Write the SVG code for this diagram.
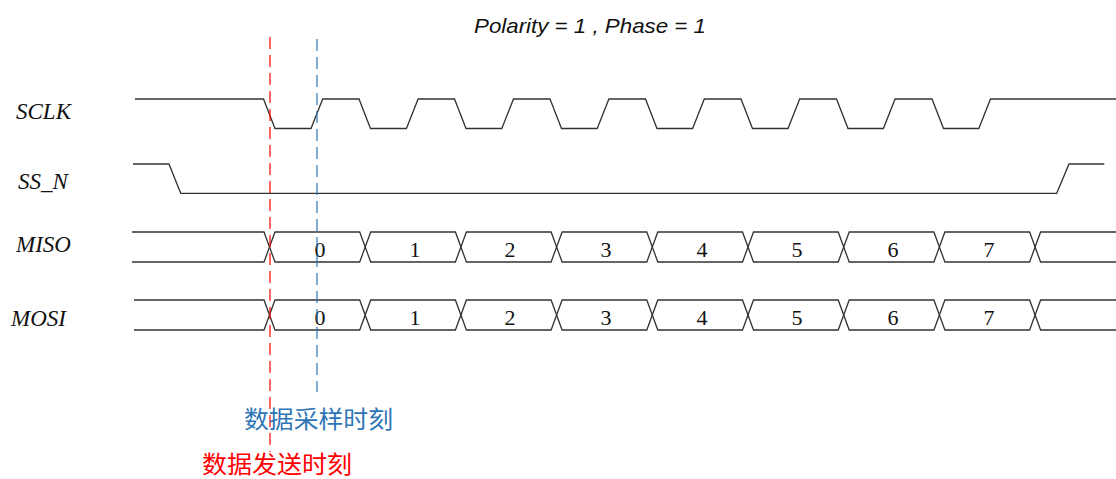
<svg xmlns="http://www.w3.org/2000/svg" width="1116" height="479" viewBox="0 0 1116 479">
<style>
.sig{fill:none;stroke:#333;stroke-width:1.3;stroke-linejoin:miter}
.ttl{font-family:"Liberation Sans",Arial,sans-serif;font-style:italic;font-size:21px;fill:#111}
.lbl{font-family:"Liberation Serif","Times New Roman",serif;font-style:italic;font-size:23px;fill:#111}
.num{font-family:"Liberation Serif","Times New Roman",serif;font-size:22px;fill:#111;text-anchor:middle}
.cjk{font-family:"Noto Sans CJK SC","Liberation Sans",sans-serif;font-size:24px}
</style>
<rect width="1116" height="479" fill="#fff"/>
<text id="title" class="ttl" x="474" y="33" textLength="232" lengthAdjust="spacingAndGlyphs">Polarity = 1 , Phase = 1</text>
<g id="sclk">
<text class="lbl" x="16" y="119">SCLK</text>
<path class="sig" d="M135,99 L263.5,99 L275,128.5 L311,128.5 L322.7,99 L359,99 L370.5,128.5 L406.4,128.5 L418.1,99 L454.5,99 L466,128.5 L501.8,128.5 L513.5,99 L550,99 L561.5,128.5 L597.2,128.5 L608.9,99 L645.5,99 L657,128.5 L692.6,128.5 L704.3,99 L741,99 L752.5,128.5 L788,128.5 L799.7,99 L836.5,99 L848,128.5 L883.4,128.5 L895.1,99 L932,99 L943.5,128.5 L978.8,128.5 L990.5,99 L1116,99"/>
</g>
<g id="ss_n">
<text class="lbl" x="18" y="189">SS_N</text>
<path class="sig" d="M133,164 L169,164 L180.7,193.3 L1056.7,193.3 L1069,164 L1104.3,164"/>
</g>
<g id="miso">
<text class="lbl" x="16" y="252">MISO</text>
<path class="sig" d="M132,232 H264 L275,262 H359.7 L370.7,232 H455.4 L466.4,262 H551.1 L562.1,232 H646.8 L657.8,262 H742.5 L753.5,232 H838.2 L849.2,262 H933.9 L944.9,232 H1029.6 L1040.6,262 H1116"/>
<path class="sig" d="M132,262 H264 L275,232 H359.7 L370.7,262 H455.4 L466.4,232 H551.1 L562.1,262 H646.8 L657.8,232 H742.5 L753.5,262 H838.2 L849.2,232 H933.9 L944.9,262 H1029.6 L1040.6,232 H1116"/>
<text class="num" x="320" y="257">0</text><text class="num" x="415" y="257">1</text><text class="num" x="510" y="257">2</text><text class="num" x="606" y="257">3</text><text class="num" x="702" y="257">4</text><text class="num" x="797" y="257">5</text><text class="num" x="893" y="257">6</text><text class="num" x="989" y="257">7</text>
</g>
<g id="mosi">
<text class="lbl" x="11" y="326">MOSI</text>
<path class="sig" d="M134,300 H264 L275,330 H359.7 L370.7,300 H455.4 L466.4,330 H551.1 L562.1,300 H646.8 L657.8,330 H742.5 L753.5,300 H838.2 L849.2,330 H933.9 L944.9,300 H1029.6 L1040.6,330 H1116"/>
<path class="sig" d="M134,330 H264 L275,300 H359.7 L370.7,330 H455.4 L466.4,300 H551.1 L562.1,330 H646.8 L657.8,300 H742.5 L753.5,330 H838.2 L849.2,300 H933.9 L944.9,330 H1029.6 L1040.6,300 H1116"/>
<text class="num" x="320" y="325">0</text><text class="num" x="415" y="325">1</text><text class="num" x="510" y="325">2</text><text class="num" x="606" y="325">3</text><text class="num" x="702" y="325">4</text><text class="num" x="797" y="325">5</text><text class="num" x="893" y="325">6</text><text class="num" x="989" y="325">7</text>
</g>
<g id="markers">
<line x1="270" y1="37" x2="270" y2="452" stroke="#ff0000" stroke-width="1.2" stroke-dasharray="12,6"/>
<line x1="317" y1="39" x2="317" y2="392" stroke="#2e75b6" stroke-width="1.2" stroke-dasharray="12,6"/>
<text class="cjk" x="244" y="428" fill="#2e75b6" textLength="149" lengthAdjust="spacingAndGlyphs">数据采样时刻</text>
<text class="cjk" x="202" y="473" fill="#ff0000" textLength="150" lengthAdjust="spacingAndGlyphs">数据发送时刻</text>
</g>
</svg>
